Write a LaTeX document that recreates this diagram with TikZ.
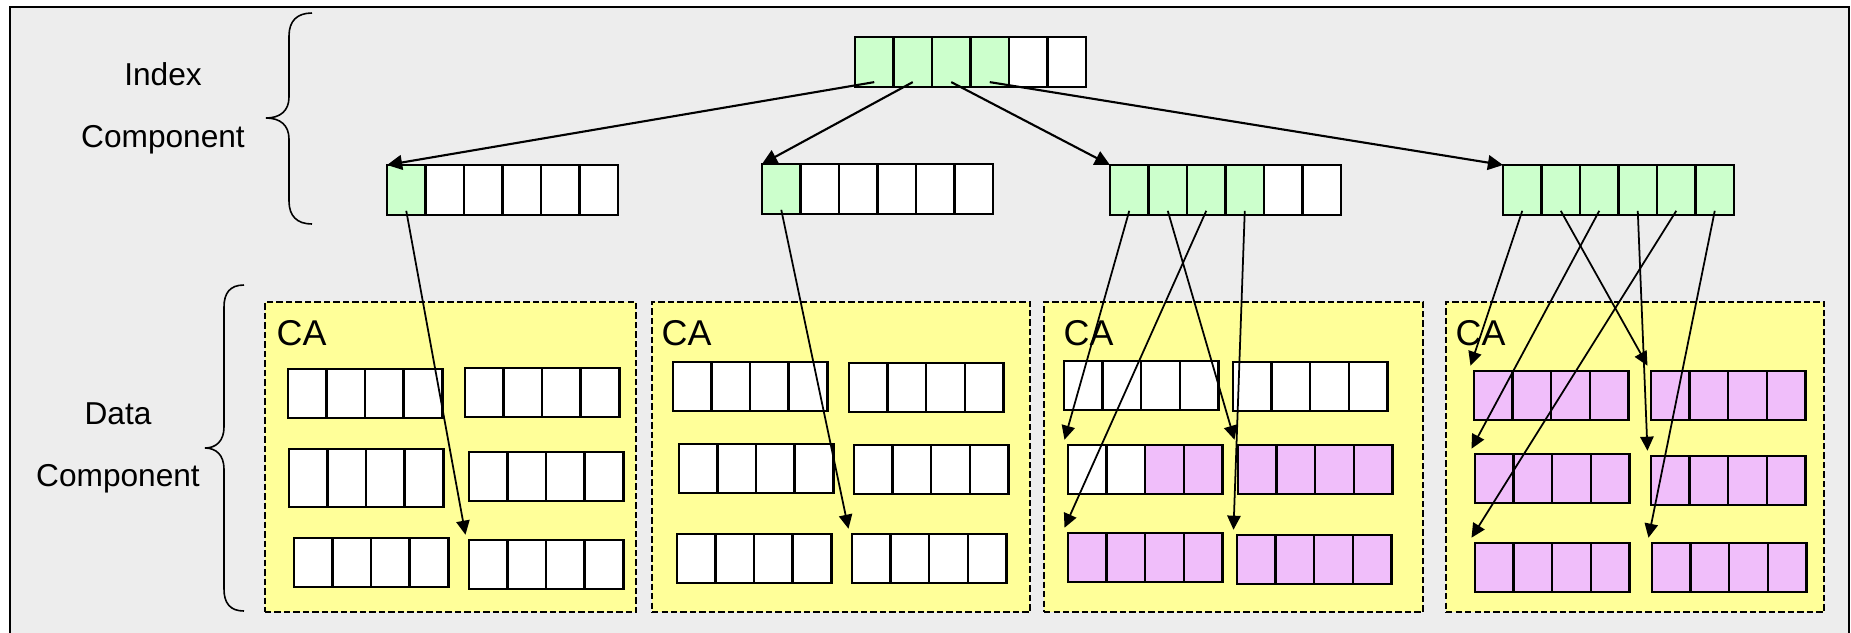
\documentclass[tikz,border=0pt]{standalone}
\usepackage{fontspec}
\setmainfont{Liberation Sans}
\usetikzlibrary{positioning,arrows.meta}

\definecolor{panel}{HTML}{EDEDED}
\definecolor{idxgreen}{HTML}{CCFFCC}
\definecolor{datpink}{HTML}{F0BEFA}
\definecolor{areayellow}{HTML}{FFFF99}

\begin{document}
\begin{tikzpicture}[x=0.01cm, y=-0.01cm,
  cell/.style={draw, line width=0.7pt, inner sep=0pt, outer sep=0pt, anchor=north west,
    minimum width=0.385cm, minimum height=0.5cm},
  area/.style={draw, dash pattern=on 1.8pt off 0.9pt, line width=0.55pt, fill=areayellow,
    inner sep=0pt, outer sep=0pt, anchor=north west, minimum height=3.1cm},
  lbl/.style={align=center, inner sep=0pt, font=\fontsize{9}{17.6}\selectfont},
  calbl/.style={inner sep=0pt, font=\fontsize{10.2}{12}\selectfont},
  brc/.style={line width=0.45pt},
  arr/.style={-{Triangle[length=4.3pt, width=4.2pt]}, line width=0.6pt},
  darr/.style={-{Triangle[length=4pt, width=3.8pt]}, line width=0.5pt}]
  \useasboundingbox (0,0) rectangle (1851,632);
  \draw[line width=0.6pt, fill=panel] (10,7) rectangle (1849,660);

  \node[lbl] (idxlbl) at (163,108) {Index\\Component};
  \node[lbl] (datlbl) at (118,448) {Data\\Component};

  % curly braces
  \draw[brc] (312,13) .. controls (297,13) and (289,21) .. (289,36) -- (289,97)
    .. controls (289,111) and (280,118) .. (266,118)
    .. controls (280,118) and (289,125) .. (289,139) -- (289,201)
    .. controls (289,216) and (297,224) .. (312,224);
  \draw[brc] (244,285) .. controls (230,285) and (224,293) .. (224,307) -- (224,427)
    .. controls (224,441) and (216,448) .. (205,448)
    .. controls (216,448) and (224,455) .. (224,469) -- (224,589)
    .. controls (224,603) and (230,611) .. (244,611);

  % CA areas
  \foreach \k/\x/\w/\dx in {1/265/3.71cm/0.11cm, 2/652/3.78cm/0.09cm,
                            3/1044/3.79cm/0.19cm, 4/1446/3.78cm/0.09cm} {
    \node[area, minimum width=\w] (ca\k) at (\x,302) {};
    \node[calbl, below right=0.18cm and \dx of ca\k.north west] (cat\k) {CA};
  }

  % index arrays: name/x/y/last green cell
  \foreach \nm/\x/\y/\g in {r/855/37/4, i1/387/165/1, i2/762/164/1,
                            i3/1110/165/4, i4/1503/165/6} {
    \foreach \i in {1,...,6} {
      \ifnum\i>\g \def\cc{white}\else\def\cc{idxgreen}\fi
      \node[cell, fill=\cc] (\nm-\i) at ({\x+(\i-1)*38.5},\y) {};
    }
  }

  % data arrays: name/x/y/first pink/last pink/height
  \foreach \nm/\x/\y/\a/\b/\h in {
      a11/288/369/1/0/0.49cm, a12/465/368/1/0/0.49cm, a13/289/449/1/0/0.58cm,
      a14/469/452/1/0/0.49cm, a15/294/538/1/0/0.49cm, a16/469/540/1/0/0.49cm,
      a21/673/362/1/0/0.49cm, a22/849/363/1/0/0.49cm, a23/679/444/1/0/0.49cm,
      a24/854/445/1/0/0.49cm, a25/677/534/1/0/0.49cm, a26/852/534/1/0/0.49cm,
      a31/1064/361/1/0/0.49cm, a32/1233/362/1/0/0.49cm, a33/1068/445/3/4/0.49cm,
      a34/1238/445/1/4/0.49cm, a35/1068/533/1/4/0.49cm, a36/1237/535/1/4/0.49cm,
      a41/1474/371/1/4/0.49cm, a42/1651/371/1/4/0.49cm, a43/1475/454/1/4/0.49cm,
      a44/1651/456/1/4/0.49cm, a45/1475/543/1/4/0.49cm, a46/1652/543/1/4/0.49cm} {
    \foreach \i in {1,...,4} {
      \ifnum\i<\a \def\cc{white}\else\ifnum\i>\b \def\cc{white}\else\def\cc{datpink}\fi\fi
      \node[cell, minimum height=\h, fill=\cc] (\nm-\i) at ({\x+(\i-1)*38.6},\y) {};
    }
  }

  \foreach \k in {1,...,4}
    \draw[arr] ([yshift=1.4pt]r-\k.south) -- (i\k-1.north west);

  \foreach \s/\t in {i1-1/a16, i2-1/a26, i3-1/a33, i3-2/a34, i3-3/a35, i3-4/a36,
                     i4-1/a41, i4-2/a42, i4-3/a43, i4-4/a44, i4-5/a45, i4-6/a46}
    \draw[darr] ([yshift=1.2pt]\s.south) -- ([xshift=-1pt,yshift=1.5pt]\t-1.north west);
\end{tikzpicture}
\end{document}
